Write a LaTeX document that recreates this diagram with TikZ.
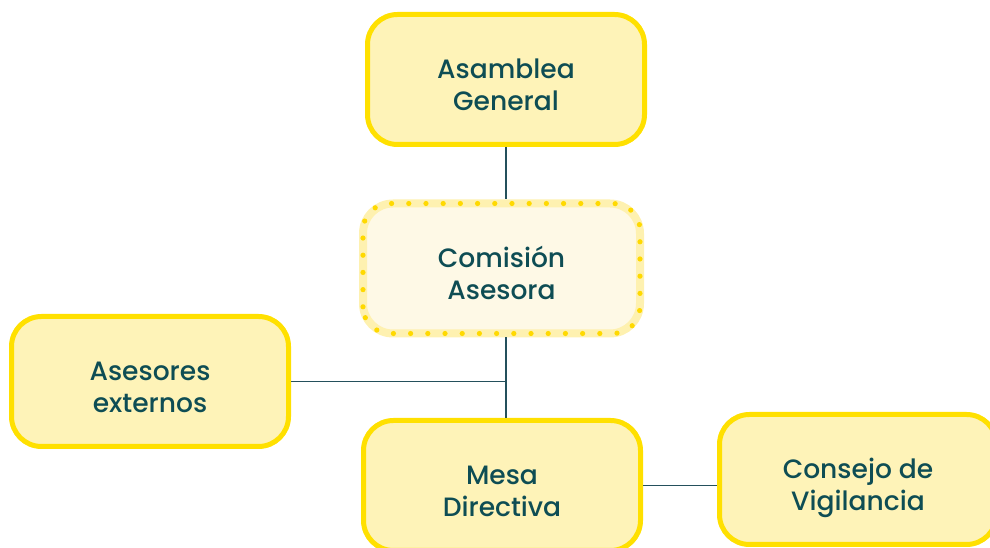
\documentclass[tikz,border=0pt]{standalone}
\usepackage{fontspec}
\setmainfont{Poppins Medium}
\usetikzlibrary{calc,positioning}
\definecolor{boxfill}{HTML}{FEF3B8}
\definecolor{boxline}{HTML}{FFE000}
\definecolor{softfill}{HTML}{FEF9E6}
\definecolor{softline}{HTML}{FEF1B0}
\definecolor{dotline}{HTML}{FFD900}
\definecolor{txt}{HTML}{0E4D54}
\definecolor{wire}{HTML}{24505C}
\newcommand\orgText[2]{\raisebox{0pt}[\dimexpr\height+13pt\relax]{\begin{tabular}{@{}c@{}}#1\\#2\end{tabular}}}

\begin{document}
\begin{tikzpicture}[x=0.75pt,y=-0.75pt,
			orgbox/.style={rectangle, draw=boxline, fill=boxfill, line width=3.75pt, rounded corners=22.5pt,
			minimum width=207.75pt, minimum height=97.5pt, text=txt,
			font=\fontsize{19.9}{24}\selectfont},
			softbox/.style={orgbox, draw=softline, fill=softfill, line width=6pt},
			dotrim/.style={draw=dotline, line width=3.9pt, line cap=round, dash pattern=on 0pt off 12.9pt},
			wirel/.style={draw=wire, line width=1.1pt}]

			\useasboundingbox (0,0) rectangle (990,548);

			% drawing boxes
			\node[orgbox] (asamblea) at (506,79.5) {\orgText{Asamblea}{General}};
			\node[softbox] (comision) at (501.5,268.5) {\orgText{Comisión}{Asesora}};
			\draw[dotrim, rounded corners=20pt] ([shift={(4,-4)}]comision.south west) rectangle ([shift={(-4,4)}]comision.north east);
			\node[orgbox] (asesores) at (150,381.5) {\orgText{Asesores}{externos}};
			\node[orgbox] (mesa) at (502,485.5) {\orgText{Mesa}{Directiva}};
			\node[orgbox] (consejo) at (858,479.5) {\orgText{Consejo de}{Vigilancia}};

			% drawing lines
			\coordinate (jn) at (506,381.5);
			\draw[wirel] (asamblea.south -| jn) -- (comision.north -| jn);
			\draw[wirel] (comision.south -| jn) -- (mesa.north -| jn);
			\draw[wirel] (asesores.east) -- (jn);
			\draw[wirel] (mesa.east) -- (mesa.east -| consejo.west);

		\end{tikzpicture}
\end{document}
